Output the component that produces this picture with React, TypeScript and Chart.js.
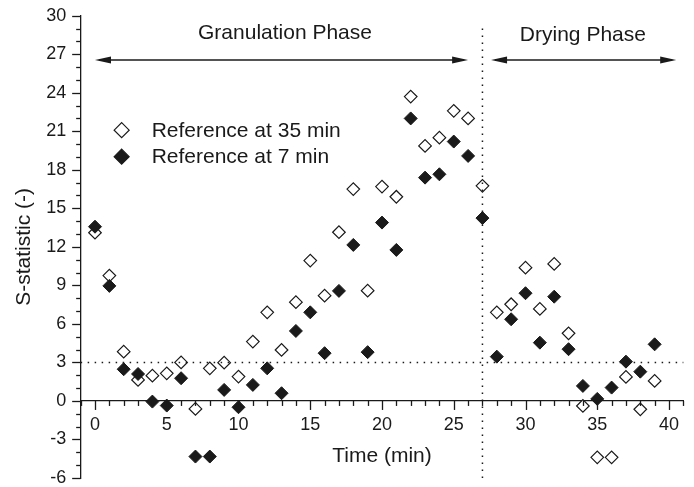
import React, { useEffect, useRef } from 'react';
import { Chart, registerables } from 'chart.js';

Chart.register(...registerables);

// ---- data ----
const timeMin = [0, 1, 2, 3, 4, 5, 6, 7, 8, 9, 10, 11, 12, 13, 14, 15, 16, 17, 18, 19, 20, 21, 22, 23, 24, 25, 26, 27, 28, 29, 30, 31, 32, 33, 34, 35, 36, 37, 38, 39];
const ref35 = [13.1, 9.76, 3.84, 1.64, 1.97, 2.15, 3.0, -0.62, 2.54, 2.98, 1.9, 4.62, 6.9, 3.97, 7.69, 10.93, 8.2, 13.14, 16.5, 8.59, 16.69, 15.9, 23.7, 19.86, 20.5, 22.59, 22.0, 16.75, 6.9, 7.53, 10.38, 7.17, 10.67, 5.27, -0.39, -4.39, -4.39, 1.87, -0.65, 1.56];
const ref7 = [13.57, 8.96, 2.47, 2.1, -0.05, -0.36, 1.77, -4.33, -4.33, 0.86, -0.49, 1.25, 2.54, 0.6, 5.45, 6.9, 3.72, 8.57, 12.15, 3.8, 13.89, 11.76, 22.0, 17.39, 17.65, 20.2, 19.08, 14.24, 3.45, 6.36, 8.39, 4.54, 8.12, 4.03, 1.17, 0.16, 1.04, 3.06, 2.28, 4.41];
const seriesLabels = ['Reference at 35 min', 'Reference at 7 min'];
const xMajorTicks = [0, 5, 10, 15, 20, 25, 30, 35, 40];
const yMajorTicks = [-6, -3, 0, 3, 6, 9, 12, 15, 18, 21, 24, 27, 30];
const phaseLabels = ['Granulation Phase', 'Drying Phase'];
const phaseStart = [0, 27.6];
const phaseEnd = [26, 40.5];
const phaseArrowY = 26.55;
const phaseLabelX = [13.24, 34.0];
const phaseLabelY = [28.6, 28.5];
const phaseBoundary = 27;
const thresholdS = 3;
const xTitle = 'Time (min)';
const yTitle = 'S-statistic (-)';

const FONT = '"Liberation Sans", Arial, Helvetica, sans-serif';
const INK = '#1a1a1a';

function diamond(ctx: CanvasRenderingContext2D, x: number, y: number, r: number, filled: boolean) {
  ctx.beginPath();
  ctx.moveTo(x, y - r);
  ctx.lineTo(x + r, y);
  ctx.lineTo(x, y + r);
  ctx.lineTo(x - r, y);
  ctx.closePath();
  ctx.fillStyle = filled ? INK : '#ffffff';
  ctx.fill();
  ctx.lineWidth = 1.2;
  ctx.strokeStyle = INK;
  ctx.stroke();
}

function arrowHead(ctx: CanvasRenderingContext2D, tipX: number, y: number, dir: number) {
  const len = 16, hw = 3.5;
  ctx.beginPath();
  ctx.moveTo(tipX, y);
  ctx.lineTo(tipX - dir * len, y - hw);
  ctx.lineTo(tipX - dir * len, y + hw);
  ctx.closePath();
  ctx.fill();
}

const decorPlugin = {
  id: 'decor',
  afterDatasetsDraw(chart: any) {
    const ctx: CanvasRenderingContext2D = chart.ctx;
    const xs = chart.scales.x, ys = chart.scales.y;
    const area = chart.chartArea;
    ctx.save();
    // dotted reference lines
    ctx.strokeStyle = INK;
    ctx.lineWidth = 1.5;
    ctx.setLineDash([1.5, 5.5]);
    const yT = ys.getPixelForValue(thresholdS);
    ctx.beginPath();
    ctx.moveTo(area.left, yT);
    ctx.lineTo(area.right, yT);
    ctx.stroke();
    const xB = xs.getPixelForValue(phaseBoundary);
    ctx.beginPath();
    ctx.moveTo(xB, ys.getPixelForValue(29));
    ctx.lineTo(xB, area.bottom);
    ctx.stroke();
    ctx.restore();
  },
  afterDraw(chart: any) {
    const ctx: CanvasRenderingContext2D = chart.ctx;
    const xs = chart.scales.x, ys = chart.scales.y;
    const area = chart.chartArea;
    ctx.save();
    // tick marks
    ctx.strokeStyle = INK;
    ctx.lineWidth = 1.3;
    const y0 = ys.getPixelForValue(0);
    for (let v = Math.ceil(xs.min); v <= xs.max; v++) {
      const px = Math.round(xs.getPixelForValue(v)) + 0.5;
      const major = xMajorTicks.includes(v);
      ctx.beginPath();
      ctx.moveTo(px, y0);
      ctx.lineTo(px, y0 + (major ? 9 : 5));
      ctx.stroke();
    }
    for (let v = Math.ceil(ys.min); v <= ys.max; v++) {
      const py = Math.round(ys.getPixelForValue(v)) + 0.5;
      const major = yMajorTicks.includes(v);
      ctx.beginPath();
      ctx.moveTo(area.left, py);
      ctx.lineTo(area.left - (major ? 8.5 : 4.5), py);
      ctx.stroke();
    }
    // phase arrows
    ctx.fillStyle = INK;
    ctx.lineWidth = 1.4;
    const ya = ys.getPixelForValue(phaseArrowY);
    for (let i = 0; i < phaseLabels.length; i++) {
      const xa = xs.getPixelForValue(phaseStart[i]);
      const xb = xs.getPixelForValue(phaseEnd[i]);
      ctx.beginPath();
      ctx.moveTo(xa + 4, ya);
      ctx.lineTo(xb - 4, ya);
      ctx.stroke();
      arrowHead(ctx, xa, ya, -1);
      arrowHead(ctx, xb, ya, 1);
      ctx.font = `21px ${FONT}`;
      ctx.textAlign = 'center';
      ctx.textBaseline = 'middle';
      ctx.fillText(phaseLabels[i], xs.getPixelForValue(phaseLabelX[i]), ys.getPixelForValue(phaseLabelY[i]));
    }
    // legend
    const ds = chart.data.datasets;
    for (let i = 0; i < ds.length; i++) {
      const ly = area.top + 114.5 + i * 26.5;
      diamond(ctx, area.left + 41, ly, 7.5, i === 1);
      ctx.fillStyle = INK;
      ctx.font = `21px ${FONT}`;
      ctx.textAlign = 'left';
      ctx.textBaseline = 'middle';
      ctx.fillText(ds[i].label, area.left + 71, ly + 1);
    }
    // x title
    ctx.font = `21px ${FONT}`;
    ctx.textAlign = 'center';
    ctx.textBaseline = 'middle';
    ctx.fillText(xTitle, (area.left + area.right) / 2, y0 + 55.5);
    ctx.restore();
  },
};

export default function App() {
  const ref = useRef<HTMLCanvasElement | null>(null);
  useEffect(() => {
    if (!ref.current) return;
    const chart = new Chart(ref.current, {
      type: 'scatter',
      data: {
        datasets: [
          {
            label: seriesLabels[0],
            data: timeMin.map((t, i) => ({ x: t, y: ref35[i] })),
            pointStyle: 'rectRot',
            pointRadius: 6.3,
            pointHoverRadius: 6.3,
            backgroundColor: '#ffffff',
            borderColor: INK,
            pointBorderWidth: 1.2,
            order: 1,
          },
          {
            label: seriesLabels[1],
            data: timeMin.map((t, i) => ({ x: t, y: ref7[i] })),
            pointStyle: 'rectRot',
            pointRadius: 6.5,
            pointHoverRadius: 6.5,
            backgroundColor: INK,
            borderColor: INK,
            pointBorderWidth: 1,
            order: 0,
          },
        ],
      },
      options: {
        responsive: false,
        animation: false,
        layout: { padding: { top: 15.7, right: 10.65, bottom: 9, left: 0 } },
        plugins: { legend: { display: false }, tooltip: { enabled: false } },
        scales: {
          x: {
            type: 'linear',
            position: { y: 0 } as any,
            min: -1,
            max: 41,
            afterBuildTicks: (s: any) => { s.ticks = xMajorTicks.map((v) => ({ value: v })); },
            afterFit: (s: any) => { s.paddingLeft = 0; s.paddingRight = 0; },
            grid: { display: false, drawTicks: false },
            border: { display: true, color: INK, width: 1.3 },
            ticks: { color: INK, font: { size: 18, family: FONT }, padding: 13.2, maxRotation: 0, autoSkip: false },
          },
          y: {
            type: 'linear',
            position: 'left',
            min: -6,
            max: 30,
            afterBuildTicks: (s: any) => { s.ticks = yMajorTicks.map((v) => ({ value: v })); },
            afterFit: (s: any) => { s.width = 80.65; s.paddingTop = 0; s.paddingBottom = 0; },
            grid: { display: false, drawTicks: false },
            border: { display: true, color: INK, width: 1.3 },
            ticks: { color: INK, font: { size: 18, family: FONT }, padding: 14.5, autoSkip: false },
            title: { display: true, text: yTitle, color: INK, font: { size: 21, family: FONT }, padding: { top: 11.4, bottom: 0 } },
          },
        },
      },
      plugins: [decorPlugin],
    });
    return () => chart.destroy();
  }, []);
  return (
    <div style={{ position: 'absolute', left: 0, top: 0, width: 694, height: 487, background: '#fff' }}>
      <canvas ref={ref} width={694} height={487} style={{ display: 'block' }} />
    </div>
  );
}
